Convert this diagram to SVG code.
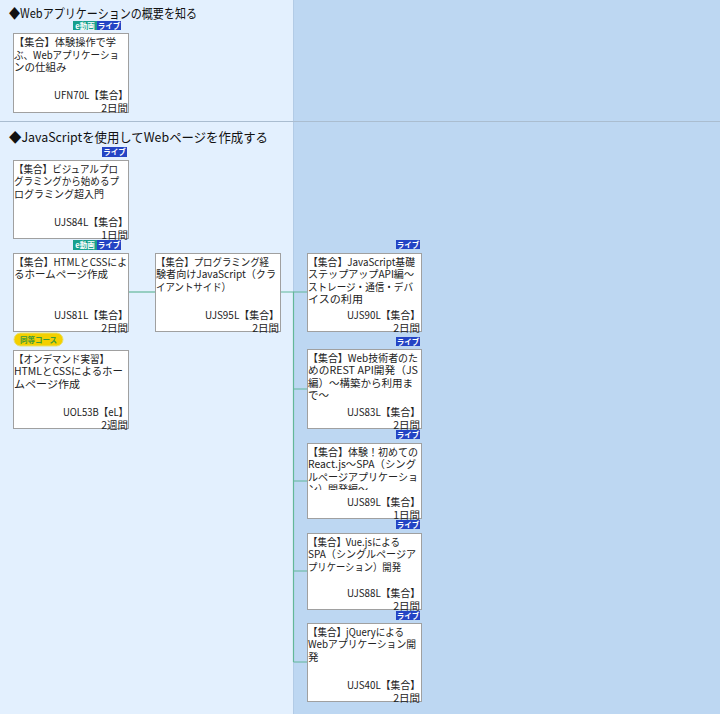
<svg xmlns="http://www.w3.org/2000/svg" width="720" height="714" viewBox="0 0 720 714">
<defs>
<style>
.t{font-family:"Noto Sans CJK JP","Noto Sans",sans-serif;font-size:10.5px;fill:#222}
.r{text-anchor:end}
.h{font-family:"Noto Sans CJK JP","Noto Sans",sans-serif;font-size:13px;fill:#111}
.box{fill:#fff;stroke:#a0a0a0;stroke-width:1}
.tg{font-family:"Noto Sans CJK JP","Noto Sans",sans-serif;font-size:7.5px;font-weight:bold;fill:#fff;text-anchor:middle}
.ev{fill:#17a08c}
.lv{fill:#2444c4}
.cn{fill:none;stroke:#63b799;stroke-width:1.2}
</style>
<clipPath id="c8"><rect x="307" y="443" width="115" height="47"/></clipPath>
</defs>
<rect x="0" y="0" width="293" height="714" fill="#e3f0fe"/>
<rect x="293" y="0" width="427" height="714" fill="#bdd7f2"/>
<line x1="293.5" y1="0" x2="293.5" y2="714" stroke="#b2cbe6" stroke-width="1"/>
<line x1="0" y1="121.5" x2="720" y2="121.5" stroke="#aabdd0" stroke-width="1.2"/>

<text class="h" x="9" y="18" textLength="188" lengthAdjust="spacingAndGlyphs">◆Webアプリケーションの概要を知る</text>
<text class="h" x="9" y="142" textLength="259" lengthAdjust="spacingAndGlyphs">◆JavaScriptを使用してWebページを作成する</text>

<g id="connectors">
<path class="cn" d="M129 292 H155"/>
<path class="cn" d="M281 292 H293.5 V662"/>
<path class="cn" d="M293.5 292 H307 M293.5 389 H307 M293.5 481 H307 M293.5 571 H307 M293.5 662 H307"/>
</g>

<g id="UFN70L">
<rect class="ev" x="73" y="21" width="24" height="9"/><text class="tg" x="85" y="28.5">e動画</text>
<rect class="lv" x="97" y="21" width="24" height="9"/><text class="tg" x="109" y="28.5">ライブ</text>
<rect class="box" x="13.5" y="33.5" width="115" height="79"/>
<text class="t" x="14" y="46" textLength="102" lengthAdjust="spacingAndGlyphs">【集合】体験操作で学</text>
<text class="t" x="14" y="58.5" textLength="105" lengthAdjust="spacingAndGlyphs">ぶ、Webアプリケーショ</text>
<text class="t" x="14" y="71">ンの仕組み</text>
<text class="t r" x="128" y="99" textLength="74" lengthAdjust="spacingAndGlyphs">UFN70L【集合】</text>
<text class="t r" x="128" y="112">2日間</text>
</g>

<g id="UJS84L">
<rect class="lv" x="102" y="147" width="25" height="10"/><text class="tg" x="114.5" y="155">ライブ</text>
<rect class="box" x="13.5" y="160.5" width="115" height="78"/>
<text class="t" x="14" y="172.5" textLength="104" lengthAdjust="spacingAndGlyphs">【集合】ビジュアルプロ</text>
<text class="t" x="14" y="185" textLength="105" lengthAdjust="spacingAndGlyphs">グラミングから始めるプ</text>
<text class="t" x="14" y="197.5" textLength="90" lengthAdjust="spacingAndGlyphs">ログラミング超入門</text>
<text class="t r" x="128" y="226" textLength="74" lengthAdjust="spacingAndGlyphs">UJS84L【集合】</text>
<text class="t r" x="128" y="238.5">1日間</text>
</g>

<g id="UJS81L">
<rect class="ev" x="73" y="240" width="24" height="10"/><text class="tg" x="85" y="248">e動画</text>
<rect class="lv" x="97" y="240" width="24" height="10"/><text class="tg" x="109" y="248">ライブ</text>
<rect class="box" x="13.5" y="253.5" width="115" height="78"/>
<text class="t" x="14" y="265.5" textLength="113" lengthAdjust="spacingAndGlyphs">【集合】HTMLとCSSによ</text>
<text class="t" x="14" y="278" textLength="94" lengthAdjust="spacingAndGlyphs">るホームページ作成</text>
<text class="t r" x="128" y="319" textLength="74" lengthAdjust="spacingAndGlyphs">UJS81L【集合】</text>
<text class="t r" x="128" y="331.5">2日間</text>
</g>

<g id="UOL53B">
<rect x="14" y="333" width="49" height="13" rx="6.5" fill="#f4d000" stroke="#e8e070" stroke-width="1"/>
<text x="38.5" y="342.5" text-anchor="middle" font-family="Noto Sans CJK JP, sans-serif" font-size="7.5" font-weight="bold" fill="#3a9a3a">同等コース</text>
<rect class="box" x="13.5" y="350.5" width="115" height="78"/>
<text class="t" x="14" y="362.5" textLength="95" lengthAdjust="spacingAndGlyphs">【オンデマンド実習】</text>
<text class="t" x="14" y="375" textLength="109" lengthAdjust="spacingAndGlyphs">HTMLとCSSによるホー</text>
<text class="t" x="14" y="387.5" textLength="66" lengthAdjust="spacingAndGlyphs">ムページ作成</text>
<text class="t r" x="128" y="416" textLength="65" lengthAdjust="spacingAndGlyphs">UOL53B【eL】</text>
<text class="t r" x="128" y="428.5">2週間</text>
</g>

<g id="UJS95L">
<rect class="box" x="155.5" y="253.5" width="125" height="78"/>
<text class="t" x="156" y="265.5" textLength="113" lengthAdjust="spacingAndGlyphs">【集合】プログラミング経</text>
<text class="t" x="156" y="278" textLength="120" lengthAdjust="spacingAndGlyphs">験者向けJavaScript（クラ</text>
<text class="t" x="156" y="290.5" textLength="75" lengthAdjust="spacingAndGlyphs">イアントサイド）</text>
<text class="t r" x="279" y="319" textLength="74" lengthAdjust="spacingAndGlyphs">UJS95L【集合】</text>
<text class="t r" x="279" y="331.5">2日間</text>
</g>

<g id="UJS90L">
<rect class="lv" x="396" y="240" width="24" height="9"/><text class="tg" x="408" y="247.5">ライブ</text>
<rect class="box" x="307.5" y="253.5" width="114" height="78"/>
<text class="t" x="308" y="265.5" textLength="107" lengthAdjust="spacingAndGlyphs">【集合】JavaScript基礎</text>
<text class="t" x="308" y="278" textLength="106" lengthAdjust="spacingAndGlyphs">ステップアップAPI編～</text>
<text class="t" x="308" y="290.5" textLength="105" lengthAdjust="spacingAndGlyphs">ストレージ・通信・デバ</text>
<text class="t" x="308" y="303" textLength="55" lengthAdjust="spacingAndGlyphs">イスの利用</text>
<text class="t r" x="420" y="319" textLength="73" lengthAdjust="spacingAndGlyphs">UJS90L【集合】</text>
<text class="t r" x="420" y="331.5">2日間</text>
</g>

<g id="UJS83L">
<rect class="lv" x="396" y="337" width="24" height="9"/><text class="tg" x="408" y="344.5">ライブ</text>
<rect class="box" x="307.5" y="349.5" width="114" height="79"/>
<text class="t" x="308" y="361.5" textLength="110" lengthAdjust="spacingAndGlyphs">【集合】Web技術者のた</text>
<text class="t" x="308" y="374" textLength="110" lengthAdjust="spacingAndGlyphs">めのREST API開発（JS</text>
<text class="t" x="308" y="386.5" textLength="105" lengthAdjust="spacingAndGlyphs">編）～構築から利用ま</text>
<text class="t" x="308" y="399">で～</text>
<text class="t r" x="420" y="416" textLength="73" lengthAdjust="spacingAndGlyphs">UJS83L【集合】</text>
<text class="t r" x="420" y="428.5">2日間</text>
</g>

<g id="UJS89L">
<rect class="lv" x="396" y="430" width="24" height="9"/><text class="tg" x="408" y="437.5">ライブ</text>
<rect class="box" x="307.5" y="443.5" width="114" height="75"/>
<text class="t" x="308" y="455.5" textLength="110" lengthAdjust="spacingAndGlyphs">【集合】体験！初めての</text>
<text class="t" x="308" y="468" textLength="108" lengthAdjust="spacingAndGlyphs">React.js～SPA（シング</text>
<text class="t" x="308" y="480.5" textLength="110" lengthAdjust="spacingAndGlyphs">ルページアプリケーショ</text>
<text class="t" x="308" y="493" clip-path="url(#c8)" textLength="60" lengthAdjust="spacingAndGlyphs">ン）開発編～</text>
<text class="t r" x="420" y="506" textLength="73" lengthAdjust="spacingAndGlyphs">UJS89L【集合】</text>
<text class="t r" x="420" y="518.5">1日間</text>
</g>

<g id="UJS88L">
<rect class="lv" x="396" y="520" width="24" height="9"/><text class="tg" x="408" y="527.5">ライブ</text>
<rect class="box" x="307.5" y="533.5" width="114" height="76"/>
<text class="t" x="308" y="545.5" textLength="92" lengthAdjust="spacingAndGlyphs">【集合】Vue.jsによる</text>
<text class="t" x="308" y="558" textLength="108" lengthAdjust="spacingAndGlyphs">SPA（シングルページア</text>
<text class="t" x="308" y="570.5" textLength="93" lengthAdjust="spacingAndGlyphs">プリケーション）開発</text>
<text class="t r" x="420" y="597" textLength="73" lengthAdjust="spacingAndGlyphs">UJS88L【集合】</text>
<text class="t r" x="420" y="609.5">2日間</text>
</g>

<g id="UJS40L">
<rect class="lv" x="396" y="611" width="24" height="9"/><text class="tg" x="408" y="618.5">ライブ</text>
<rect class="box" x="307.5" y="623.5" width="114" height="78"/>
<text class="t" x="308" y="635.5" textLength="96" lengthAdjust="spacingAndGlyphs">【集合】jQueryによる</text>
<text class="t" x="308" y="648" textLength="108" lengthAdjust="spacingAndGlyphs">Webアプリケーション開</text>
<text class="t" x="308" y="660.5">発</text>
<text class="t r" x="420" y="689" textLength="73" lengthAdjust="spacingAndGlyphs">UJS40L【集合】</text>
<text class="t r" x="420" y="701.5">2日間</text>
</g>
</svg>
